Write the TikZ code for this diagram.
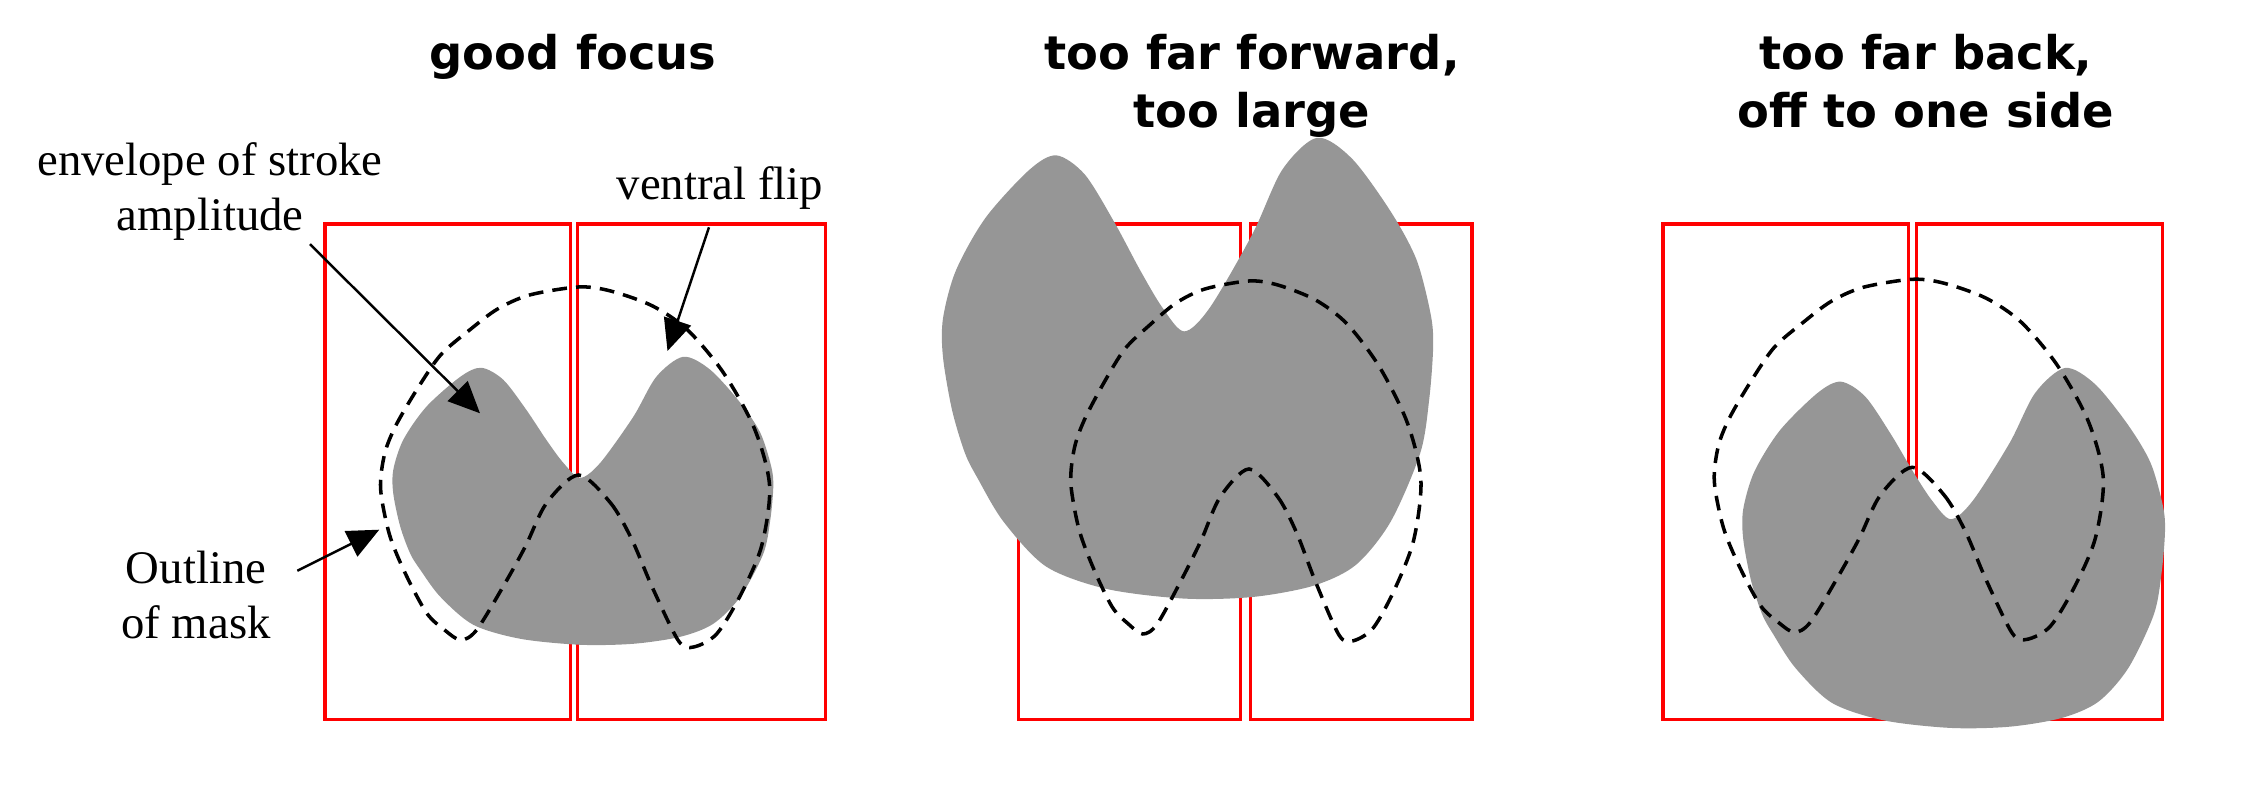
\documentclass[tikz,border=0pt]{standalone}
\usepackage{fontspec}
\setmainfont{Liberation Serif}
\newfontfamily\titlefont{DejaVu Sans}
\usetikzlibrary{arrows.meta}

\definecolor{wingray}{RGB}{150,150,150}

% outline of the stroke envelope, origin at the notch
\newcommand*{\blobshape}{plot[smooth cycle] coordinates {(0,0) (0.2,0.15) (0.53,0.61) (0.76,1.01) (1.03,1.21) (1.3,1.08) (1.6,0.75) (1.8,0.45) (1.91,0.11) (1.93,-0.09) (1.9,-0.42) (1.83,-0.76) (1.6,-1.19) (1.33,-1.46) (1.0,-1.59) (0.53,-1.66) (0,-1.67) (-0.6,-1.61) (-1.07,-1.47) (-1.4,-1.19) (-1.6,-0.92) (-1.7,-0.76) (-1.8,-0.49) (-1.87,-0.16) (-1.87,0.08) (-1.77,0.38) (-1.54,0.71) (-1.2,1.01) (-0.99,1.1) (-0.77,0.98) (-0.54,0.68) (-0.34,0.38) (-0.17,0.15)}}

% outline of the mask, origin at the inner peak
\newcommand*{\maskshape}{plot[smooth cycle] coordinates {(0,0) (0.32,-0.28) (0.53,-0.64) (0.74,-1.13) (1.0,-1.66) (1.15,-1.72) (1.38,-1.59) (1.62,-1.2) (1.83,-0.71) (1.91,-0.11) (1.76,0.46) (1.45,1.02) (1.09,1.45) (0.74,1.69) (0.32,1.84) (0,1.88) (-0.49,1.8) (-0.81,1.66) (-1.09,1.45) (-1.38,1.2) (-1.62,0.85) (-1.83,0.49) (-1.94,0.21) (-1.98,-0.14) (-1.89,-0.6) (-1.73,-0.99) (-1.52,-1.38) (-1.34,-1.55) (-1.18,-1.65) (-1.02,-1.55) (-0.74,-1.09) (-0.53,-0.71) (-0.32,-0.28)}}

\begin{document}
\begin{tikzpicture}
[
	maskbox/.style={draw=red,line width=0.9pt},
	envelope/.style={fill=wingray},
	maskline/.style={draw,line width=1pt,dash pattern=on 4.2pt off 2.6pt},
	pointer/.style={-{Triangle[length=9pt,width=8pt]},line width=0.7pt},
	heading/.style={font=\titlefont\bfseries\fontsize{13.2}{16.4}\selectfont,align=center,anchor=north,inner sep=0pt},
	note/.style={font=\fontsize{13.3}{15.5}\selectfont,align=center,anchor=north,inner sep=0pt}
]
	\useasboundingbox (0,0) rectangle (22.42,8);

	% titles
	\node[heading] (goodtitle) at (5.73,7.66) {good focus};
	\node[heading] (forwardtitle) at (12.52,7.66) {too far forward,\\too large};
	\node[heading] (backtitle) at (19.26,7.66) {too far back,\\off to one side};

	% good focus
	\draw[maskbox] (3.25,0.805) rectangle (5.707,5.76);
	\draw[maskbox] (5.773,0.805) rectangle (8.253,5.76);
	\fill[envelope,shift={(5.803,3.222)}] \blobshape;
	\draw[maskline,shift={(5.786,3.25)}] \maskshape;

	% too far forward
	\draw[maskbox] (10.187,0.805) rectangle (12.403,5.76);
	\draw[maskbox] (12.501,0.805) rectangle (14.72,5.76);
	\fill[envelope,shift={(11.842,4.686)},xscale=1.29,yscale=1.6] \blobshape;
	\draw[maskline,shift={(12.49,3.31)},xscale=0.9] \maskshape;

	% too far back
	\draw[maskbox] (16.63,0.805) rectangle (19.081,5.76);
	\draw[maskbox] (19.169,0.805) rectangle (21.627,5.76);
	\fill[envelope,shift={(19.508,2.808)},xscale=1.11,yscale=1.25] \blobshape;
	\draw[maskline,shift={(19.123,3.327)}] \maskshape;

	% labels
	\node[note] (envlabel) at (2.10,6.58) {envelope of stroke\\amplitude};
	\node[note] (fliplabel) at (7.20,6.34) {ventral flip};
	\node[note] (masklabel) at (1.96,2.496) {Outline\\of mask};

	\coordinate (envtip) at (4.80,3.867);
	\coordinate (fliptip) at (6.675,4.49);
	\coordinate (masktip) at (3.793,2.703);

	\draw[pointer] ([xshift=1.0cm,yshift=-0.035cm]envlabel.south) -- (envtip);
	\draw[pointer] ([xshift=-0.11cm,yshift=-0.17cm]fliplabel.south) -- (fliptip);
	\draw[pointer] ([xshift=0.26cm,yshift=0.24cm]masklabel.east) -- (masktip);

\end{tikzpicture}
\end{document}
